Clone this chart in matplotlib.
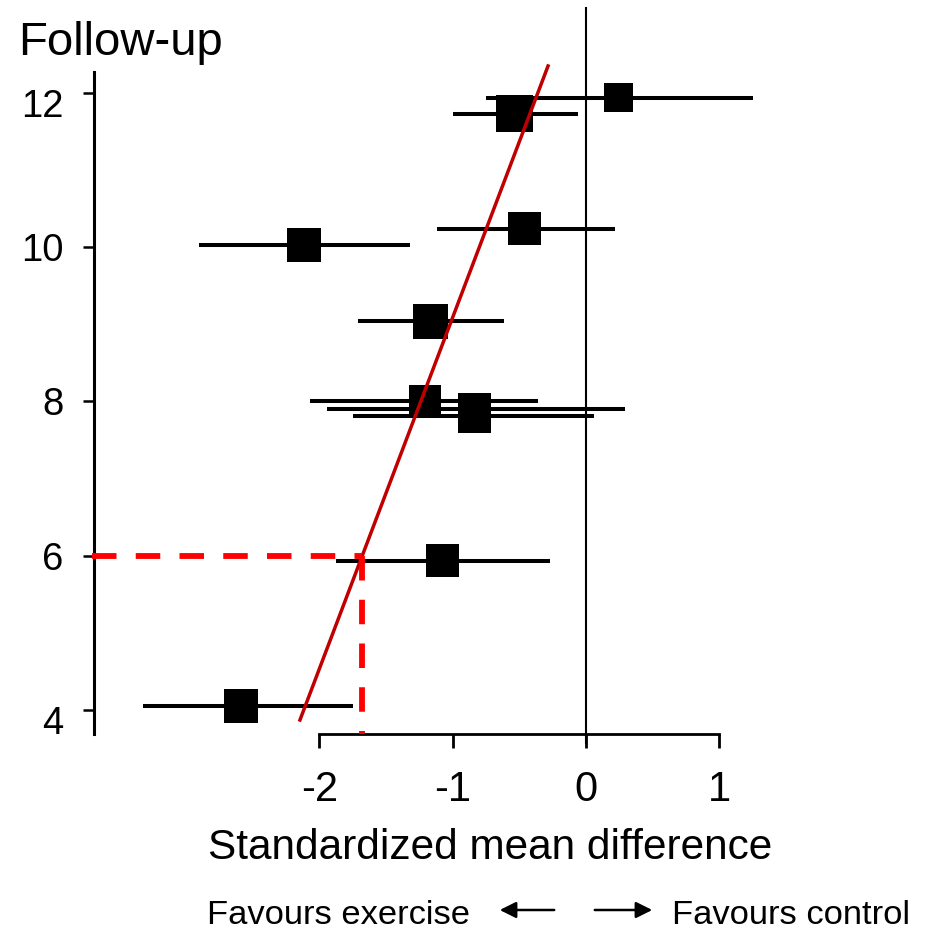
import matplotlib
matplotlib.use("Agg")
import matplotlib.pyplot as plt
from matplotlib.transforms import ScaledTranslation

plt.rcParams['font.family'] = ['Liberation Sans', 'DejaVu Sans']
plt.rcParams['axes.unicode_minus'] = False

# Study data: follow-up (months), standardized mean difference, 95% CI, marker size (px)
follow_up = [11.94, 11.73, 10.24, 10.03, 9.04, 8.00, 7.90, 7.81, 5.93, 4.05]
smd       = [0.245, -0.538, -0.458, -2.112, -1.170, -1.208, -0.840, -0.840, -1.080, -2.592]
ci_low    = [-0.75, -1.00, -1.118, -2.90, -1.71, -2.07, -1.943, -1.748, -1.875, -3.323]
ci_high   = [1.253, -0.06, 0.217, -1.32, -0.615, -0.36, 0.293, 0.06, -0.27, -1.748]
weight_px = [29, 37, 33, 34, 35, 32, 33, 33, 33, 34]

# Meta-regression line (endpoints)
reg_x = [-2.146, -0.285]
reg_y = [3.868, 12.35]
# Highlighted reading at 6 months
read_y = 6
read_x = -1.68

xticks = [-2, -1, 0, 1]
yticks = [4, 6, 8, 10, 12]

W, H = 926, 932
fig = plt.figure(figsize=(W / 100, H / 100), dpi=100)
ax = fig.add_axes([94 / W, (H - 734) / H, (760 - 94) / W, (734 - 72) / H])
ax.set_xlim(-3.691, 1.305)
ax.set_ylim(3.686, 12.272)

for s in ['top', 'right']:
    ax.spines[s].set_visible(False)
ax.spines['left'].set_linewidth(2.2)
ax.spines['bottom'].set_linewidth(2.0)
ax.spines['bottom'].set_bounds(-2, 1)

ax.set_xticks(xticks)
ax.set_xticklabels([str(v) for v in xticks])
ax.set_yticks(yticks)
ax.set_yticklabels([str(v) for v in yticks])
ax.tick_params(axis='x', direction='out', length=10, width=2.0, labelsize=30, pad=16)
ax.tick_params(axis='y', direction='out', length=8, width=1.8, labelsize=27.5, pad=14)
off = ScaledTranslation(0, -10 / 100, fig.dpi_scale_trans)
for v, lbl in zip(yticks, ax.get_yticklabels()):
    if v in (4, 12):
        lbl.set_transform(lbl.get_transform() + off)

# zero line
ax.plot([0, 0], [3.57, 13.10], color='black', lw=1.5, clip_on=False, zorder=2)

# CIs
ax.hlines(follow_up, ci_low, ci_high, colors='black', lw=2.9, zorder=3)
# markers
ax.scatter(smd, follow_up, marker='s', s=[(p * 0.72) ** 2 for p in weight_px],
           color='black', linewidths=0, zorder=4)

# regression line
ax.plot(reg_x, reg_y, color='#C00000', lw=2.5, zorder=5, clip_on=False)

# dashed reading
ax.plot([-3.706, read_x], [read_y, read_y], color='#FF0000', lw=4.2,
        dashes=(4.2, 3.3), zorder=6, clip_on=False)
ax.plot([read_x, read_x], [read_y, 3.686], color='#FF0000', lw=4.2,
        dashes=(4.2, 3.3), zorder=6, clip_on=False)

# texts
fig.text(18 / W, 1 - 43 / H, 'Follow-up', fontsize=34, ha='left', va='center')
fig.text(490 / W, 1 - 848 / H, 'Standardized mean difference', fontsize=30.5,
         ha='center', va='center')
fig.text(207 / W, 1 - 915 / H, 'Favours exercise', fontsize=24.8, ha='left', va='center')
fig.text(910 / W, 1 - 915 / H, 'Favours control', fontsize=24.8, ha='right', va='center')

ay = H - 910
fig.add_artist(matplotlib.patches.FancyArrowPatch((557 / W, ay / H), (497 / W, ay / H),
               transform=fig.transFigure, arrowstyle='-|>,head_length=0.7,head_width=0.35',
               mutation_scale=14, lw=1.8, color='black'))
fig.add_artist(matplotlib.patches.FancyArrowPatch((592 / W, ay / H), (655 / W, ay / H),
               transform=fig.transFigure, arrowstyle='-|>,head_length=0.7,head_width=0.35',
               mutation_scale=14, lw=1.8, color='black'))

fig.savefig('out.png', dpi=100)
